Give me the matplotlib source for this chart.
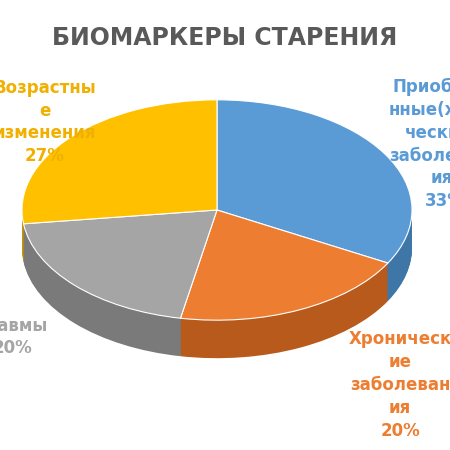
import matplotlib
matplotlib.use("Agg")
import matplotlib.pyplot as plt

labels = ["Приобрете\nнные(хрони\nческими\nзаболевани\nия)", "Хроническ\nие\nзаболеван\nия", "Травмы", "Возрастны\nе\nизменения"]
values = [33, 20, 20, 27]
colors = ["#5B9BD5", "#ED7D31", "#A5A5A5", "#FFC000"]
dark = ["#3F76A8", "#B85A1C", "#7A7A7A", "#C79500"]

s = 0.565
fig = plt.figure(figsize=(4.5, 4.5), dpi=100)
ax = fig.add_axes([0, 0, 1, 1])
cx, cy, R, depth = 217, 210, 195, 38
cyd = (450 - cy) / s
for k in range(40, -1, -1):
    off = depth / s * k / 40
    ax.pie(values, colors=dark if k > 0 else colors, startangle=90, counterclock=False,
           center=(cx, cyd - off), radius=R, frame=True,
           wedgeprops=dict(linewidth=0.8 if k == 0 else 0, edgecolor="white"))
ax.set_xlim(0, 450)
ax.set_ylim(0, 450 / s)
ax.set_aspect("auto")
ax.axis("off")

def P(px, py):
    return px, (450 - py) / s

fs = 12
ax.text(*P(225, 38), "БИОМАРКЕРЫ СТАРЕНИЯ", ha="center", va="center", fontsize=17,
        fontweight="bold", color="#595959")
ax.text(*P(445, 144), labels[0] + f"\n{values[0]}%", ha="center", va="center", fontsize=fs,
        fontweight="bold", color=colors[0], linespacing=1.35)
ax.text(*P(400, 385), labels[1] + f"\n{values[1]}%", ha="center", va="center", fontsize=fs,
        fontweight="bold", color=colors[1], linespacing=1.35)
ax.text(*P(12, 337), labels[2] + f"\n{values[2]}%", ha="center", va="center", fontsize=fs,
        fontweight="bold", color=colors[2], linespacing=1.35)
ax.text(*P(45, 122), labels[3] + f"\n{values[3]}%", ha="center", va="center", fontsize=fs,
        fontweight="bold", color="#F0B000", linespacing=1.35)
fig.savefig("out.png", dpi=100)
